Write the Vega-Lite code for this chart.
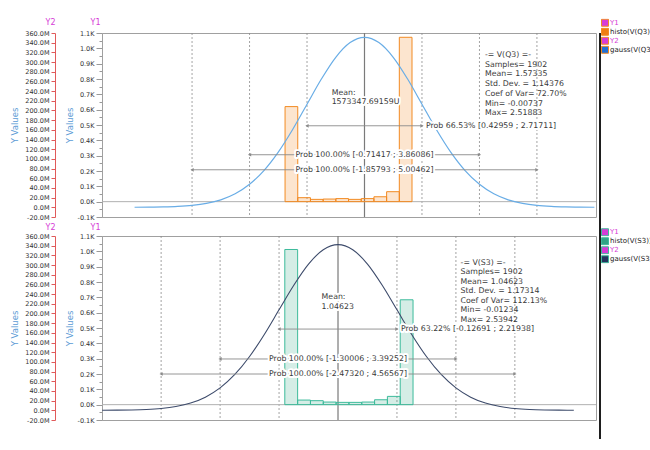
{
  "$schema": "https://vega.github.io/schema/vega-lite/v6.json",
  "background": "white",
  "padding": {"left": 10, "top": 17, "right": 0, "bottom": 2},
  "config": {
    "font": "DejaVu Sans",
    "view": {"stroke": "#a0a0a0", "strokeWidth": 1},
    "axis": {"labelFont": "DejaVu Sans", "titleFont": "DejaVu Sans", "labelFlush": false, "labelOverlap": false, "grid": false},
    "legend": {"labelFont": "DejaVu Sans"},
    "text": {"font": "DejaVu Sans"}
  },
  "datasets": {
    "hist_q3": [
      {"lo": -0.00737, "hi": 0.24525, "count": 620},
      {"lo": 0.24525, "hi": 0.49787, "count": 26},
      {"lo": 0.49787, "hi": 0.75049, "count": 15},
      {"lo": 0.75049, "hi": 1.00311, "count": 17},
      {"lo": 1.00311, "hi": 1.25573, "count": 20},
      {"lo": 1.25573, "hi": 1.50835, "count": 15},
      {"lo": 1.50835, "hi": 1.76097, "count": 20},
      {"lo": 1.76097, "hi": 2.01359, "count": 32},
      {"lo": 2.01359, "hi": 2.26621, "count": 65},
      {"lo": 2.26621, "hi": 2.51883, "count": 1072}
    ],
    "hist_s3": [
      {"lo": -0.01234, "hi": 0.24284, "count": 1012},
      {"lo": 0.24284, "hi": 0.49801, "count": 30},
      {"lo": 0.49801, "hi": 0.75319, "count": 26},
      {"lo": 0.75319, "hi": 1.00836, "count": 17},
      {"lo": 1.00836, "hi": 1.26354, "count": 15},
      {"lo": 1.26354, "hi": 1.51872, "count": 15},
      {"lo": 1.51872, "hi": 1.77389, "count": 17},
      {"lo": 1.77389, "hi": 2.02907, "count": 32},
      {"lo": 2.02907, "hi": 2.28424, "count": 54},
      {"lo": 2.28424, "hi": 2.53942, "count": 684}
    ],
    "gauss_q3": [
      {"x": -3.00169, "m": 0.12}, {"x": -2.71575, "m": 0.31}, {"x": -2.42981, "m": 0.77},
      {"x": -2.14387, "m": 1.8}, {"x": -1.85793, "m": 3.9}, {"x": -1.57199, "m": 8.0},
      {"x": -1.28605, "m": 15.4}, {"x": -1.00011, "m": 27.9}, {"x": -0.71417, "m": 47.5},
      {"x": -0.42823, "m": 75.9}, {"x": -0.14229, "m": 114.0}, {"x": 0.14365, "m": 160.7},
      {"x": 0.42959, "m": 212.9}, {"x": 0.71553, "m": 264.9}, {"x": 1.00147, "m": 309.8},
      {"x": 1.28741, "m": 340.2}, {"x": 1.57335, "m": 351.0}, {"x": 1.85929, "m": 340.2},
      {"x": 2.14523, "m": 309.8}, {"x": 2.43117, "m": 264.9}, {"x": 2.71711, "m": 212.9},
      {"x": 3.00305, "m": 160.7}, {"x": 3.28899, "m": 114.0}, {"x": 3.57493, "m": 75.9},
      {"x": 3.86087, "m": 47.5}, {"x": 4.14681, "m": 27.9}, {"x": 4.43275, "m": 15.4},
      {"x": 4.71869, "m": 8.0}, {"x": 5.00463, "m": 3.9}, {"x": 5.29057, "m": 1.8},
      {"x": 5.57651, "m": 0.77}, {"x": 5.86245, "m": 0.31}, {"x": 6.14839, "m": 0.12}
    ],
    "gauss_s3": [
      {"x": -3.64633, "m": 0.11}, {"x": -3.35305, "m": 0.30}, {"x": -3.05976, "m": 0.75},
      {"x": -2.76648, "m": 1.74}, {"x": -2.47319, "m": 3.8}, {"x": -2.17991, "m": 7.8},
      {"x": -1.88662, "m": 15.0}, {"x": -1.59334, "m": 27.2}, {"x": -1.30005, "m": 46.3},
      {"x": -1.00677, "m": 74.0}, {"x": -0.71348, "m": 111.1}, {"x": -0.4202, "m": 156.7},
      {"x": -0.12691, "m": 207.6}, {"x": 0.16638, "m": 258.3}, {"x": 0.45966, "m": 302.0},
      {"x": 0.75295, "m": 331.7}, {"x": 1.04623, "m": 342.2}, {"x": 1.33952, "m": 331.7},
      {"x": 1.6328, "m": 302.0}, {"x": 1.92609, "m": 258.3}, {"x": 2.21937, "m": 207.6},
      {"x": 2.51266, "m": 156.7}, {"x": 2.80594, "m": 111.1}, {"x": 3.09923, "m": 74.0},
      {"x": 3.39251, "m": 46.3}, {"x": 3.6858, "m": 27.2}, {"x": 3.97908, "m": 15.0},
      {"x": 4.27237, "m": 7.8}, {"x": 4.56565, "m": 3.8}, {"x": 4.85894, "m": 1.74},
      {"x": 5.15222, "m": 0.75}, {"x": 5.44551, "m": 0.30}, {"x": 5.73879, "m": 0.11}
    ],
    "vlines_q3": [
      {"v": -1.85793, "kind": "sigma"}, {"v": -0.71417, "kind": "sigma"}, {"v": 0.42959, "kind": "sigma"},
      {"v": 2.71711, "kind": "sigma"}, {"v": 3.86086, "kind": "sigma"}, {"v": 5.00462, "kind": "sigma"},
      {"v": 1.57335, "kind": "mean"}
    ],
    "vlines_s3": [
      {"v": -2.4732, "kind": "sigma"}, {"v": -1.30006, "kind": "sigma"}, {"v": -0.12691, "kind": "sigma"},
      {"v": 2.21938, "kind": "sigma"}, {"v": 3.39252, "kind": "sigma"}, {"v": 4.56567, "kind": "sigma"},
      {"v": 1.04623, "kind": "mean"}
    ],
    "arrows_q3": [
      {"lo": 0.42959, "hi": 2.71711, "level": 495, "center": 1.57335, "kind": "inner", "label": "Prob 66.53% [0.42959 ; 2.71711]"},
      {"lo": -0.71417, "hi": 3.86086, "level": 306, "center": 1.57335, "kind": "outer", "label": "Prob 100.00% [-0.71417 ; 3.86086]"},
      {"lo": -1.85793, "hi": 5.00462, "level": 208, "center": 1.57335, "kind": "outer", "label": "Prob 100.00% [-1.85793 ; 5.00462]"}
    ],
    "arrows_s3": [
      {"lo": -0.12691, "hi": 2.21938, "level": 493, "center": 1.04623, "kind": "inner", "label": "Prob 63.22% [-0.12691 ; 2.21938]"},
      {"lo": -1.30006, "hi": 3.39252, "level": 298, "center": 1.04623, "kind": "outer", "label": "Prob 100.00% [-1.30006 ; 3.39252]"},
      {"lo": -2.4732, "hi": 4.56567, "level": 200, "center": 1.04623, "kind": "outer", "label": "Prob 100.00% [-2.47320 ; 4.56567]"}
    ],
    "notes_q3": [
      {"x": 3.97, "y": 982, "kind": "stats", "text": "-= V(Q3) =-\nSamples= 1902\nMean= 1.57335\nStd. Dev. = 1.14376\nCoef of Var= 72.70%\nMin= -0.00737\nMax= 2.51883"},
      {"x": 0.92, "y": 735, "kind": "mean", "text": "Mean:\n1573347.69159U"}
    ],
    "notes_s3": [
      {"x": 3.485, "y": 952, "kind": "stats", "text": "-= V(S3) =-\nSamples= 1902\nMean= 1.04623\nStd. Dev. = 1.17314\nCoef of Var= 112.13%\nMin= -0.01234\nMax= 2.53942"},
      {"x": 0.72, "y": 726, "kind": "mean", "text": "Mean:\n1.04623"}
    ],
    "zero": [{"y": 0}],
    "separator": [{"part": "separator"}]
  },
  "spacing": 497,
  "bounds": "flush",
  "hconcat": [
    {
      "spacing": 19,
      "bounds": "flush",
      "resolve": {"scale": {"color": "independent"}},
      "vconcat": [
        {
          "width": 494,
          "height": 184,
          "resolve": {"scale": {"y": "independent"}},
          "layer": [
            {
              "data": {"name": "vlines_q3"},
              "transform": [{"filter": "datum.kind == 'sigma'"}],
              "mark": {"type": "rule", "color": "#8c8c8c", "strokeDash": [2, 2], "strokeWidth": 0.8},
              "encoding": {
                "x": {"field": "v", "type": "quantitative", "scale": {"domain": [-3.65, 6.18], "nice": false, "zero": false},
                  "axis": {"orient": "bottom", "title": null, "labels": false, "labelOverlap": false, "domainColor": "#a0a0a0", "tickColor": "#999999",
                    "values": [-3.6,-3.4,-3.2,-3,-2.8,-2.6,-2.4,-2.2,-2,-1.8,-1.6,-1.4,-1.2,-1,-0.8,-0.6,-0.4,-0.2,0,0.2,0.4,0.6,0.8,1,1.2,1.4,1.6,1.8,2,2.2,2.4,2.6,2.8,3,3.2,3.4,3.6,3.8,4,4.2,4.4,4.6,4.8,5,5.2,5.4,5.6,5.8,6],
                    "tickSize": {"condition": {"test": "abs(datum.value - round(datum.value)) < 0.001", "value": 5}, "value": 3}}}
              }
            },
            {
              "data": {"name": "vlines_q3"},
              "transform": [{"filter": "datum.kind == 'mean'"}],
              "mark": {"type": "rule", "color": "#7a7a7a", "strokeWidth": 1.2},
              "encoding": {"x": {"field": "v", "type": "quantitative", "scale": {"domain": [-3.65, 6.18], "nice": false, "zero": false}, "axis": null}}
            },
            {
              "encoding": {
                "y": {"type": "quantitative", "scale": {"domain": [-100, 1100], "nice": false, "zero": false},
                  "axis": {"orient": "left", "title": "Y Values", "titleColor": "#5b9bd5", "titleFontSize": 8.5, "titleFontWeight": "normal", "titlePadding": 3,
                    "values": [-100,-50,0,50,100,150,200,250,300,350,400,450,500,550,600,650,700,750,800,850,900,950,1000,1050,1100],
                    "labelExpr": "datum.value % 100 == 0 ? replace(format(datum.value / 1000, '.1f'), '\u2212', '-') + 'K' : ''",
                    "labelOverlap": false, "labelFontSize": 6.5, "labelColor": "#333333", "labelPadding": 2, "domainColor": "#a0a0a0", "tickColor": "#999999",
                    "tickSize": {"condition": {"test": "datum.value % 100 == 0", "value": 6}, "value": 3}}}
              },
              "layer": [
                {
                  "data": {"name": "zero"},
                  "mark": {"type": "rule", "color": "#b0b0b0"},
                  "encoding": {"y": {"field": "y"}}
                },
                {
                  "data": {"name": "hist_q3"},
                  "mark": {"type": "bar", "fillOpacity": 0.2, "stroke": "#f28a22", "strokeWidth": 1},
                  "encoding": {
                    "x": {"field": "lo", "type": "quantitative", "scale": {"domain": [-3.65, 6.18], "nice": false, "zero": false}, "axis": null},
                    "x2": {"field": "hi"},
                    "y": {"field": "count"},
                    "y2": {"datum": 0},
                    "color": {"datum": "histo(V(Q3))", "type": "nominal",
                      "scale": {"domain": ["Y1", "histo(V(Q3))", "Y2", "gauss(V(Q3))"], "range": ["#d63cd6", "#f07d10", "#d63cd6", "#1f6fd6"]},
                      "legend": {"title": null, "orient": "none", "legendX": 499, "legendY": -14.5, "padding": 0, "rowPadding": 0, "clipHeight": 8.5,
                        "labelFontSize": 7, "labelOffset": 1, "symbolSize": 49, "symbolStrokeWidth": 1,
                        "labelColor": {"expr": "datum.value == 'Y1' || datum.value == 'Y2' ? '#d63cd6' : '#222222'"},
                        "encode": {
                          "symbols": {
                            "shape": {"condition": {"test": "datum.value == 'Y1' || datum.value == 'Y2'", "value": "M-0.75,-0.75H0.75V0.75H-0.75Z M-0.58,-0.58V0.58H0.58V-0.58Z M-0.42,-0.09H0.42V0.09H-0.42Z"}, "value": "M-0.4,-1H0.4V1H-0.4Z"},
                            "stroke": {"condition": {"test": "datum.value == 'Y1' || datum.value == 'Y2'", "value": "transparent"}, "value": "transparent"},
                            "fillOpacity": {"value": 1},
                            "opacity": {"value": 1}
                          }
                        }}}
                  }
                }
              ]
            },
            {
              "data": {"name": "gauss_q3"},
              "mark": {"type": "line", "color": "#69ade6", "strokeWidth": 1.2, "interpolate": "monotone"},
              "encoding": {
                "x": {"field": "x", "type": "quantitative", "scale": {"domain": [-3.65, 6.18], "nice": false, "zero": false}, "axis": null},
                "y": {"field": "m", "type": "quantitative", "scale": {"domain": [-20, 360], "nice": false, "zero": false},
                  "axis": {"orient": "left", "offset": 47, "title": "Y Values", "titleColor": "#5b9bd5", "titleFontSize": 8.5, "titleFontWeight": "normal", "titlePadding": 5,
                    "values": [-20,0,20,40,60,80,100,120,140,160,180,200,220,240,260,280,300,320,340,360],
                    "labelExpr": "replace(format(datum.value, '.1f'), '\u2212', '-') + 'M'",
                    "labelOverlap": false, "labelFontSize": 6.5, "labelColor": "#333333", "labelPadding": 2, "domainColor": "#e05a5a", "tickColor": "#e05a5a", "tickSize": 4}}
              }
            },
            {
              "data": {"name": "arrows_q3"},
              "encoding": {
                "y": {"field": "level", "type": "quantitative", "scale": {"domain": [-100, 1100], "nice": false, "zero": false},
                  "axis": {"orient": "left", "offset": 47, "title": "Y2", "titleAngle": 0, "titleX": 0, "titleY": -9, "titleAlign": "right", "titleBaseline": "alphabetic",
                    "titleColor": "#d63cd6", "titleFontSize": 8, "titleFontWeight": "normal", "domain": false, "ticks": false, "labels": false}}
              },
              "layer": [
                {"mark": {"type": "rule", "color": "#8a8a8a", "strokeWidth": 0.9},
                 "encoding": {"x": {"field": "lo", "type": "quantitative", "scale": {"domain": [-3.65, 6.18], "nice": false, "zero": false}, "axis": null}, "x2": {"field": "hi"}}},
                {"mark": {"type": "point", "shape": "triangle-left", "filled": true, "size": 14, "color": "#8a8a8a", "opacity": 1},
                 "encoding": {"x": {"field": "lo", "type": "quantitative", "scale": {"domain": [-3.65, 6.18], "nice": false, "zero": false}, "axis": null}}},
                {"mark": {"type": "point", "shape": "triangle-right", "filled": true, "size": 14, "color": "#8a8a8a", "opacity": 1},
                 "encoding": {"x": {"field": "hi", "type": "quantitative", "scale": {"domain": [-3.65, 6.18], "nice": false, "zero": false}, "axis": null}}},
                {"transform": [{"filter": "datum.kind == 'outer'"}],
                 "mark": {"type": "text", "fontSize": 7.8, "stroke": "white", "strokeWidth": 4, "strokeJoin": "round", "fill": "white"},
                 "encoding": {"x": {"field": "center", "type": "quantitative", "scale": {"domain": [-3.65, 6.18], "nice": false, "zero": false}, "axis": null}, "text": {"field": "label"}}},
                {"transform": [{"filter": "datum.kind == 'outer'"}],
                 "mark": {"type": "text", "fontSize": 7.8, "color": "#3a3a3a"},
                 "encoding": {"x": {"field": "center", "type": "quantitative", "scale": {"domain": [-3.65, 6.18], "nice": false, "zero": false}, "axis": null}, "text": {"field": "label"}}},
                {"transform": [{"filter": "datum.kind == 'inner'"}],
                 "mark": {"type": "text", "fontSize": 7.8, "align": "left", "dx": 4, "stroke": "white", "strokeWidth": 4, "strokeJoin": "round", "fill": "white"},
                 "encoding": {"x": {"field": "hi", "type": "quantitative", "scale": {"domain": [-3.65, 6.18], "nice": false, "zero": false}, "axis": null}, "text": {"field": "label"}}},
                {"transform": [{"filter": "datum.kind == 'inner'"}],
                 "mark": {"type": "text", "fontSize": 7.8, "align": "left", "dx": 4, "color": "#3a3a3a"},
                 "encoding": {"x": {"field": "hi", "type": "quantitative", "scale": {"domain": [-3.65, 6.18], "nice": false, "zero": false}, "axis": null}, "text": {"field": "label"}}}
              ]
            },
            {
              "data": {"name": "notes_q3"},
              "encoding": {
                "x": {"field": "x", "type": "quantitative", "scale": {"domain": [-3.65, 6.18], "nice": false, "zero": false}, "axis": null},
                "y": {"field": "y", "type": "quantitative", "scale": {"domain": [-100, 1100], "nice": false, "zero": false},
                  "axis": {"orient": "left", "title": "Y1", "titleAngle": 0, "titleX": -2, "titleY": -9, "titleAlign": "right", "titleBaseline": "alphabetic",
                    "titleColor": "#d63cd6", "titleFontSize": 8, "titleFontWeight": "normal", "domain": false, "ticks": false, "labels": false}},
                "text": {"field": "text"}
              },
              "layer": [
                {"transform": [{"filter": "datum.kind == 'mean'"}],
                 "mark": {"type": "text", "align": "left", "baseline": "top", "lineBreak": "\n", "lineHeight": 9.5, "fontSize": 7.8, "stroke": "white", "strokeWidth": 4, "strokeJoin": "round", "fill": "white"}},
                {"transform": [{"filter": "datum.kind == 'mean'"}],
                 "mark": {"type": "text", "align": "left", "baseline": "top", "lineBreak": "\n", "lineHeight": 9.5, "fontSize": 7.8, "color": "#3a3a3a"}},
                {"transform": [{"filter": "datum.kind == 'stats'"}],
                 "mark": {"type": "text", "align": "left", "baseline": "top", "lineBreak": "\n", "lineHeight": 9.7, "fontSize": 7.8, "color": "#3a3a3a"}}
              ]
            }
          ]
        },
        {
          "width": 494,
          "height": 184,
          "resolve": {"scale": {"y": "independent"}},
          "layer": [
            {
              "data": {"name": "vlines_s3"},
              "transform": [{"filter": "datum.kind == 'sigma'"}],
              "mark": {"type": "rule", "color": "#8c8c8c", "strokeDash": [2, 2], "strokeWidth": 0.8},
              "encoding": {
                "x": {"field": "v", "type": "quantitative", "scale": {"domain": [-3.65, 6.18], "nice": false, "zero": false},
                  "axis": {"orient": "bottom", "title": "Voltage (V)", "titleColor": "#5b9bd5", "titleFontSize": 8.5, "titleFontWeight": "normal", "titlePadding": 2,
                    "labelExpr": "abs(datum.value - round(datum.value)) < 0.001 ? replace(format(datum.value, '.1f'), '\u2212', '-') : ''",
                    "labelOverlap": false, "labelFontSize": 6.5, "labelColor": "#333333", "labelPadding": 2, "domainColor": "#a0a0a0", "tickColor": "#999999",
                    "values": [-3.6,-3.4,-3.2,-3,-2.8,-2.6,-2.4,-2.2,-2,-1.8,-1.6,-1.4,-1.2,-1,-0.8,-0.6,-0.4,-0.2,0,0.2,0.4,0.6,0.8,1,1.2,1.4,1.6,1.8,2,2.2,2.4,2.6,2.8,3,3.2,3.4,3.6,3.8,4,4.2,4.4,4.6,4.8,5,5.2,5.4,5.6,5.8,6],
                    "tickSize": {"condition": {"test": "abs(datum.value - round(datum.value)) < 0.001", "value": 5}, "value": 3}}}
              }
            },
            {
              "data": {"name": "vlines_s3"},
              "transform": [{"filter": "datum.kind == 'mean'"}],
              "mark": {"type": "rule", "color": "#7a7a7a", "strokeWidth": 1.2},
              "encoding": {"x": {"field": "v", "type": "quantitative", "scale": {"domain": [-3.65, 6.18], "nice": false, "zero": false}, "axis": null}}
            },
            {
              "encoding": {
                "y": {"type": "quantitative", "scale": {"domain": [-100, 1100], "nice": false, "zero": false},
                  "axis": {"orient": "left", "title": "Y Values", "titleColor": "#5b9bd5", "titleFontSize": 8.5, "titleFontWeight": "normal", "titlePadding": 3,
                    "values": [-100,-50,0,50,100,150,200,250,300,350,400,450,500,550,600,650,700,750,800,850,900,950,1000,1050,1100],
                    "labelExpr": "datum.value % 100 == 0 ? replace(format(datum.value / 1000, '.1f'), '\u2212', '-') + 'K' : ''",
                    "labelOverlap": false, "labelFontSize": 6.5, "labelColor": "#333333", "labelPadding": 2, "domainColor": "#a0a0a0", "tickColor": "#999999",
                    "tickSize": {"condition": {"test": "datum.value % 100 == 0", "value": 6}, "value": 3}}}
              },
              "layer": [
                {
                  "data": {"name": "zero"},
                  "mark": {"type": "rule", "color": "#b0b0b0"},
                  "encoding": {"y": {"field": "y"}}
                },
                {
                  "data": {"name": "hist_s3"},
                  "mark": {"type": "bar", "fillOpacity": 0.2, "stroke": "#3dbb9b", "strokeWidth": 1},
                  "encoding": {
                    "x": {"field": "lo", "type": "quantitative", "scale": {"domain": [-3.65, 6.18], "nice": false, "zero": false}, "axis": null},
                    "x2": {"field": "hi"},
                    "y": {"field": "count"},
                    "y2": {"datum": 0},
                    "color": {"datum": "histo(V(S3))", "type": "nominal",
                      "scale": {"domain": ["Y1", "histo(V(S3))", "Y2", "gauss(V(S3))"], "range": ["#d63cd6", "#2fa384", "#d63cd6", "#24345e"]},
                      "legend": {"title": null, "orient": "none", "legendX": 499, "legendY": -8, "padding": 0, "rowPadding": 0, "clipHeight": 8.5,
                        "labelFontSize": 7, "labelOffset": 1, "symbolSize": 49, "symbolStrokeWidth": 1,
                        "labelColor": {"expr": "datum.value == 'Y1' || datum.value == 'Y2' ? '#d63cd6' : '#222222'"},
                        "encode": {
                          "symbols": {
                            "shape": {"condition": {"test": "datum.value == 'Y1' || datum.value == 'Y2'", "value": "M-0.75,-0.75H0.75V0.75H-0.75Z M-0.58,-0.58V0.58H0.58V-0.58Z M-0.42,-0.09H0.42V0.09H-0.42Z"}, "value": "M-0.4,-1H0.4V1H-0.4Z"},
                            "stroke": {"condition": {"test": "datum.value == 'Y1' || datum.value == 'Y2'", "value": "transparent"}, "value": "transparent"},
                            "fillOpacity": {"value": 1},
                            "opacity": {"value": 1}
                          }
                        }}}
                  }
                }
              ]
            },
            {
              "data": {"name": "gauss_s3"},
              "mark": {"type": "line", "color": "#3d4b6b", "strokeWidth": 1.1, "interpolate": "monotone"},
              "encoding": {
                "x": {"field": "x", "type": "quantitative", "scale": {"domain": [-3.65, 6.18], "nice": false, "zero": false}, "axis": null},
                "y": {"field": "m", "type": "quantitative", "scale": {"domain": [-20, 360], "nice": false, "zero": false},
                  "axis": {"orient": "left", "offset": 47, "title": "Y Values", "titleColor": "#5b9bd5", "titleFontSize": 8.5, "titleFontWeight": "normal", "titlePadding": 5,
                    "values": [-20,0,20,40,60,80,100,120,140,160,180,200,220,240,260,280,300,320,340,360],
                    "labelExpr": "replace(format(datum.value, '.1f'), '\u2212', '-') + 'M'",
                    "labelOverlap": false, "labelFontSize": 6.5, "labelColor": "#333333", "labelPadding": 2, "domainColor": "#e05a5a", "tickColor": "#e05a5a", "tickSize": 4}}
              }
            },
            {
              "data": {"name": "arrows_s3"},
              "encoding": {
                "y": {"field": "level", "type": "quantitative", "scale": {"domain": [-100, 1100], "nice": false, "zero": false},
                  "axis": {"orient": "left", "offset": 47, "title": "Y2", "titleAngle": 0, "titleX": 0, "titleY": -7, "titleAlign": "right", "titleBaseline": "alphabetic",
                    "titleColor": "#d63cd6", "titleFontSize": 8, "titleFontWeight": "normal", "domain": false, "ticks": false, "labels": false}}
              },
              "layer": [
                {"mark": {"type": "rule", "color": "#8a8a8a", "strokeWidth": 0.9},
                 "encoding": {"x": {"field": "lo", "type": "quantitative", "scale": {"domain": [-3.65, 6.18], "nice": false, "zero": false}, "axis": null}, "x2": {"field": "hi"}}},
                {"mark": {"type": "point", "shape": "triangle-left", "filled": true, "size": 14, "color": "#8a8a8a", "opacity": 1},
                 "encoding": {"x": {"field": "lo", "type": "quantitative", "scale": {"domain": [-3.65, 6.18], "nice": false, "zero": false}, "axis": null}}},
                {"mark": {"type": "point", "shape": "triangle-right", "filled": true, "size": 14, "color": "#8a8a8a", "opacity": 1},
                 "encoding": {"x": {"field": "hi", "type": "quantitative", "scale": {"domain": [-3.65, 6.18], "nice": false, "zero": false}, "axis": null}}},
                {"transform": [{"filter": "datum.kind == 'outer'"}],
                 "mark": {"type": "text", "fontSize": 7.8, "stroke": "white", "strokeWidth": 4, "strokeJoin": "round", "fill": "white"},
                 "encoding": {"x": {"field": "center", "type": "quantitative", "scale": {"domain": [-3.65, 6.18], "nice": false, "zero": false}, "axis": null}, "text": {"field": "label"}}},
                {"transform": [{"filter": "datum.kind == 'outer'"}],
                 "mark": {"type": "text", "fontSize": 7.8, "color": "#3a3a3a"},
                 "encoding": {"x": {"field": "center", "type": "quantitative", "scale": {"domain": [-3.65, 6.18], "nice": false, "zero": false}, "axis": null}, "text": {"field": "label"}}},
                {"transform": [{"filter": "datum.kind == 'inner'"}],
                 "mark": {"type": "text", "fontSize": 7.8, "align": "left", "dx": 4, "stroke": "white", "strokeWidth": 4, "strokeJoin": "round", "fill": "white"},
                 "encoding": {"x": {"field": "hi", "type": "quantitative", "scale": {"domain": [-3.65, 6.18], "nice": false, "zero": false}, "axis": null}, "text": {"field": "label"}}},
                {"transform": [{"filter": "datum.kind == 'inner'"}],
                 "mark": {"type": "text", "fontSize": 7.8, "align": "left", "dx": 4, "color": "#3a3a3a"},
                 "encoding": {"x": {"field": "hi", "type": "quantitative", "scale": {"domain": [-3.65, 6.18], "nice": false, "zero": false}, "axis": null}, "text": {"field": "label"}}}
              ]
            },
            {
              "data": {"name": "notes_s3"},
              "encoding": {
                "x": {"field": "x", "type": "quantitative", "scale": {"domain": [-3.65, 6.18], "nice": false, "zero": false}, "axis": null},
                "y": {"field": "y", "type": "quantitative", "scale": {"domain": [-100, 1100], "nice": false, "zero": false},
                  "axis": {"orient": "left", "title": "Y1", "titleAngle": 0, "titleX": -2, "titleY": -7, "titleAlign": "right", "titleBaseline": "alphabetic",
                    "titleColor": "#d63cd6", "titleFontSize": 8, "titleFontWeight": "normal", "domain": false, "ticks": false, "labels": false}},
                "text": {"field": "text"}
              },
              "layer": [
                {"transform": [{"filter": "datum.kind == 'mean'"}],
                 "mark": {"type": "text", "align": "left", "baseline": "top", "lineBreak": "\n", "lineHeight": 9.5, "fontSize": 7.8, "stroke": "white", "strokeWidth": 4, "strokeJoin": "round", "fill": "white"}},
                {"transform": [{"filter": "datum.kind == 'mean'"}],
                 "mark": {"type": "text", "align": "left", "baseline": "top", "lineBreak": "\n", "lineHeight": 9.5, "fontSize": 7.8, "color": "#3a3a3a"}},
                {"transform": [{"filter": "datum.kind == 'stats'"}],
                 "mark": {"type": "text", "align": "left", "baseline": "top", "lineBreak": "\n", "lineHeight": 9.5, "fontSize": 7.8, "color": "#3a3a3a"}}
              ]
            }
          ]
        }
      ]
    },
    {
      "width": 2,
      "height": 406,
      "view": {"fill": "#1e1e1e", "stroke": null},
      "data": {"name": "separator"},
      "mark": {"type": "rule", "opacity": 0},
      "encoding": {}
    }
  ]
}
